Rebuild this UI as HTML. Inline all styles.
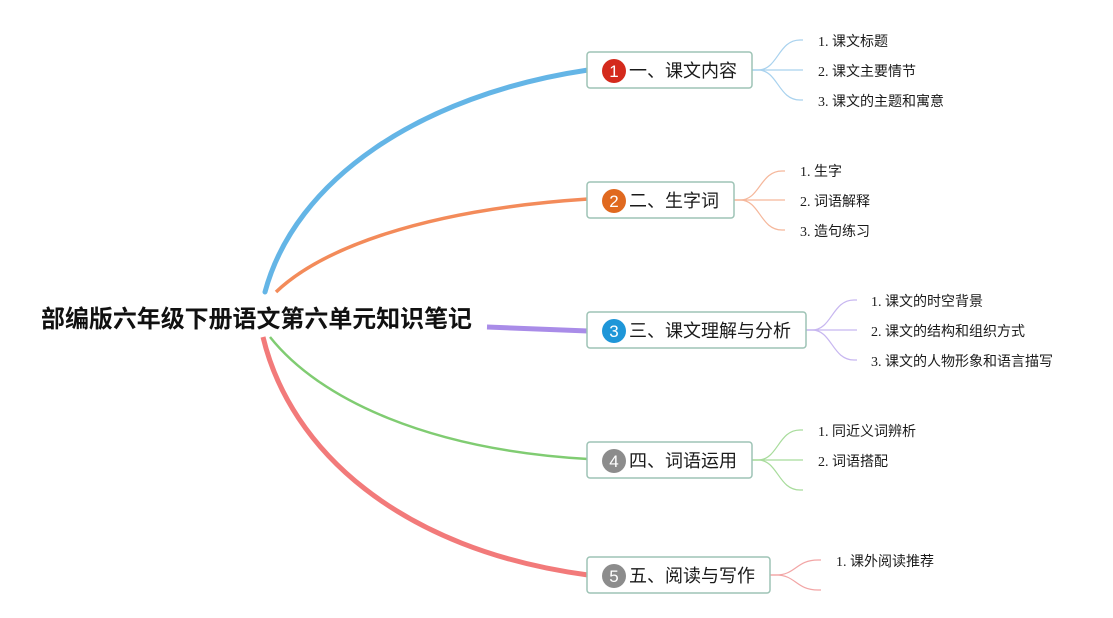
<!DOCTYPE html>
<html>
<head>
<meta charset="utf-8">
<style>
  html, body { margin: 0; padding: 0; background: #ffffff; }
  body { width: 1113px; height: 618px; overflow: hidden; }
  svg { display: block; }
  .title { font-family: "Liberation Sans", "Noto Sans CJK SC", sans-serif; font-weight: bold; font-size: 24px; fill: #111; }
  .node { font-family: "Liberation Sans", "Noto Sans CJK SC", sans-serif; font-size: 18px; fill: #1a1a1a; }
  .num { font-family: "Liberation Sans", sans-serif; font-size: 17px; fill: #ffffff; }
  .sub { font-family: "Liberation Serif", "Noto Sans CJK SC", serif; font-size: 14px; fill: #1a1a1a; }
</style>
</head>
<body>
<svg width="1113" height="618" viewBox="0 0 1113 618" xmlns="http://www.w3.org/2000/svg">
  <!-- main connectors -->
  <path d="M265,292 C295,180 420,95 588,70" fill="none" stroke="#64b5e6" stroke-width="5" stroke-linecap="round"/>
  <path d="M276,292 C320,250 420,210 588,199" fill="none" stroke="#f38b5a" stroke-width="3.5"/>
  <path d="M487,327 L588,331" fill="none" stroke="#a98ce8" stroke-width="5"/>
  <path d="M270,337 C320,400 430,450 588,459" fill="none" stroke="#80cc72" stroke-width="2.5"/>
  <path d="M263,337 C290,450 400,550 588,575" fill="none" stroke="#f27a7a" stroke-width="5"/>

  <!-- sub connectors: node 1 -->
  <g fill="none" stroke="#a9d2ee" stroke-width="1.2">
    <path d="M752,70 L758,70 C778,70 778,40 800,40 L803,40"/>
    <path d="M752,70 L803,70"/>
    <path d="M752,70 L758,70 C778,70 778,100 800,100 L803,100"/>
  </g>
  <!-- node 2 -->
  <g fill="none" stroke="#f5b79b" stroke-width="1.2">
    <path d="M734,200 L740,200 C760,200 760,171 782,171 L785,171"/>
    <path d="M734,200 L785,200"/>
    <path d="M734,200 L740,200 C760,200 760,230 782,230 L785,230"/>
  </g>
  <!-- node 3 -->
  <g fill="none" stroke="#c7b6f0" stroke-width="1.2">
    <path d="M806,330 L812,330 C832,330 832,300 854,300 L857,300"/>
    <path d="M806,330 L857,330"/>
    <path d="M806,330 L812,330 C832,330 832,360 854,360 L857,360"/>
  </g>
  <!-- node 4 -->
  <g fill="none" stroke="#a8dc9c" stroke-width="1.2">
    <path d="M752,460 L758,460 C778,460 778,430 800,430 L803,430"/>
    <path d="M752,460 L803,460"/>
    <path d="M752,460 L758,460 C778,460 778,490 800,490 L803,490"/>
  </g>
  <!-- node 5 -->
  <g fill="none" stroke="#f2a5a5" stroke-width="1.2">
    <path d="M770,575 L776,575 C796,575 796,560 818,560 L821,560"/>
    <path d="M770,575 L776,575 C796,575 796,590 818,590 L821,590"/>
  </g>

  <!-- central title -->
  <text class="title" x="41" y="327" textLength="431" lengthAdjust="spacingAndGlyphs">部编版六年级下册语文第六单元知识笔记</text>

  <!-- node boxes -->
  <g fill="#ffffff" stroke="#9dc3b5" stroke-width="1.5">
    <rect x="587" y="52" width="165" height="36" rx="3"/>
    <rect x="587" y="182" width="147" height="36" rx="3"/>
    <rect x="587" y="312" width="219" height="36" rx="3"/>
    <rect x="587" y="442" width="165" height="36" rx="3"/>
    <rect x="587" y="557" width="183" height="36" rx="3"/>
  </g>

  <!-- number circles -->
  <circle cx="614" cy="71" r="12" fill="#d42a1c"/>
  <text class="num" x="614" y="77" text-anchor="middle">1</text>
  <circle cx="614" cy="201" r="12" fill="#e0691f"/>
  <text class="num" x="614" y="207" text-anchor="middle">2</text>
  <circle cx="614" cy="331" r="12" fill="#1e96d8"/>
  <text class="num" x="614" y="337" text-anchor="middle">3</text>
  <circle cx="614" cy="461" r="12" fill="#8c8c8c"/>
  <text class="num" x="614" y="467" text-anchor="middle">4</text>
  <circle cx="614" cy="576" r="12" fill="#8c8c8c"/>
  <text class="num" x="614" y="582" text-anchor="middle">5</text>

  <!-- node labels -->
  <text class="node" x="629" y="77" textLength="108" lengthAdjust="spacingAndGlyphs">一、课文内容</text>
  <text class="node" x="629" y="207" textLength="90" lengthAdjust="spacingAndGlyphs">二、生字词</text>
  <text class="node" x="629" y="337" textLength="162" lengthAdjust="spacingAndGlyphs">三、课文理解与分析</text>
  <text class="node" x="629" y="467" textLength="108" lengthAdjust="spacingAndGlyphs">四、词语运用</text>
  <text class="node" x="629" y="582" textLength="126" lengthAdjust="spacingAndGlyphs">五、阅读与写作</text>

  <!-- sub labels -->
  <text class="sub" x="818" y="46">1. 课文标题</text>
  <text class="sub" x="818" y="76">2. 课文主要情节</text>
  <text class="sub" x="818" y="106">3. 课文的主题和寓意</text>

  <text class="sub" x="800" y="176">1. 生字</text>
  <text class="sub" x="800" y="206">2. 词语解释</text>
  <text class="sub" x="800" y="236">3. 造句练习</text>

  <text class="sub" x="871" y="306">1. 课文的时空背景</text>
  <text class="sub" x="871" y="336">2. 课文的结构和组织方式</text>
  <text class="sub" x="871" y="366">3. 课文的人物形象和语言描写</text>

  <text class="sub" x="818" y="436">1. 同近义词辨析</text>
  <text class="sub" x="818" y="466">2. 词语搭配</text>

  <text class="sub" x="836" y="566">1. 课外阅读推荐</text>
</svg>
</body>
</html>
